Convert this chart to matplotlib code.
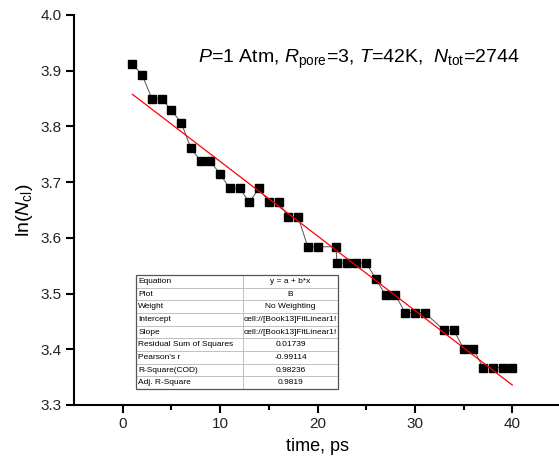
import numpy as np
import matplotlib
matplotlib.use("Agg")
import matplotlib.pyplot as plt
from matplotlib.patches import Rectangle

plt.rcParams['font.family'] = ['Liberation Sans', 'DejaVu Sans']
plt.rcParams['mathtext.fontset'] = 'custom'
plt.rcParams['mathtext.rm'] = 'Liberation Sans'
plt.rcParams['mathtext.it'] = 'Liberation Sans:italic'

# data: time (ps) and ln(N_cl)
time_ps = [1, 2, 3, 4, 5, 6, 7, 8, 9, 10,
           11, 12, 13, 14, 15, 16, 17, 18, 19, 20,
           21.9, 22, 23, 24, 25, 26, 27, 28, 29, 30,
           31, 33, 34, 35, 36, 37, 38, 39, 40]
ln_ncl = [3.912, 3.892, 3.850, 3.850, 3.829, 3.807, 3.761, 3.738, 3.738, 3.714,
          3.689, 3.689, 3.664, 3.689, 3.664, 3.664, 3.638, 3.638, 3.584, 3.584,
          3.584, 3.555, 3.555, 3.555, 3.555, 3.526, 3.497, 3.497, 3.466, 3.466,
          3.466, 3.434, 3.434, 3.401, 3.401, 3.367, 3.367, 3.367, 3.367]

# linear fit y = a + b*x as shown by the red line
fit_a = 3.871
fit_b = -0.01338

table_labels = ["Equation", "Plot", "Weight", "Intercept", "Slope",
                "Residual Sum of Squares", "Pearson's r", "R-Square(COD)",
                "Adj. R-Square"]
table_values = ["y = a + b*x", "B", "No Weighting",
                "cell://[Book13]FitLinear1!", "cell://[Book13]FitLinear1!",
                "0.01739", "-0.99114", "0.98236", "0.9819"]

fig = plt.figure(figsize=(5.59, 4.68), dpi=100)
ax = fig.add_axes([74 / 559, 63 / 468, 487 / 559, 390 / 468])

x = np.array(time_ps)
y = np.array(ln_ncl)
ax.plot(x, y, color='#555555', lw=0.7, zorder=2)
ax.plot(x, y, ls='none', marker='s', ms=6, color='black', zorder=3)

xf = np.array([x.min(), x.max()])
ax.plot(xf, fit_a + fit_b * xf, color='red', lw=0.9, zorder=4)

ax.set_xlim(-5, 45)
ax.set_ylim(3.3, 4.0)
ax.set_xticks([0, 10, 20, 30, 40])
ax.set_xticks([5, 15, 25, 35, 45], minor=True)
ax.set_yticks(np.arange(3.3, 4.01, 0.1))
ax.set_yticklabels([f"{v:.1f}" for v in np.arange(3.3, 4.01, 0.1)])

for s in ['top', 'right']:
    ax.spines[s].set_visible(False)
for s in ['left', 'bottom']:
    ax.spines[s].set_linewidth(1.5)
ax.tick_params(axis='both', which='major', length=6, width=1.5,
               labelsize=11, labelcolor='#222222', pad=3)
ax.tick_params(axis='x', which='minor', length=3.5, width=1.5)

ax.set_xlabel("time, ps", fontsize=13, labelpad=5)
ax.set_ylabel(r"ln($N_\mathrm{cl}$)", fontsize=14, labelpad=4)

ax.text(0.585, 0.887,
        r"$P$=1 Atm, $R_\mathrm{pore}$=3, $T$=42K,  $N_\mathrm{tot}$=2744",
        transform=ax.transAxes, ha='center', va='center', fontsize=14)

# fit results table
bbox = [(136 - 74) / 487, (405 - 389) / 390, (338 - 136) / 487, (389 - 275) / 390]
tab = ax.table(cellText=[[l, v] for l, v in zip(table_labels, table_values)],
               colWidths=[0.53, 0.47], bbox=bbox, zorder=5)
tab.auto_set_font_size(False)
for (r, c), cell in tab.get_celld().items():
    cell.set_edgecolor('#bbbbbb')
    cell.set_linewidth(0.6)
    cell.set_facecolor('white')
    cell.get_text().set_fontsize(6)
    if c == 0:
        cell.get_text().set_ha('left')
        cell.PAD = 0.02
    else:
        cell.get_text().set_ha('center')
ax.add_patch(Rectangle((bbox[0], bbox[1]), bbox[2], bbox[3],
                       transform=ax.transAxes, fill=False,
                       edgecolor='#555555', lw=0.9, zorder=6))

fig.savefig("out.png", dpi=100)
